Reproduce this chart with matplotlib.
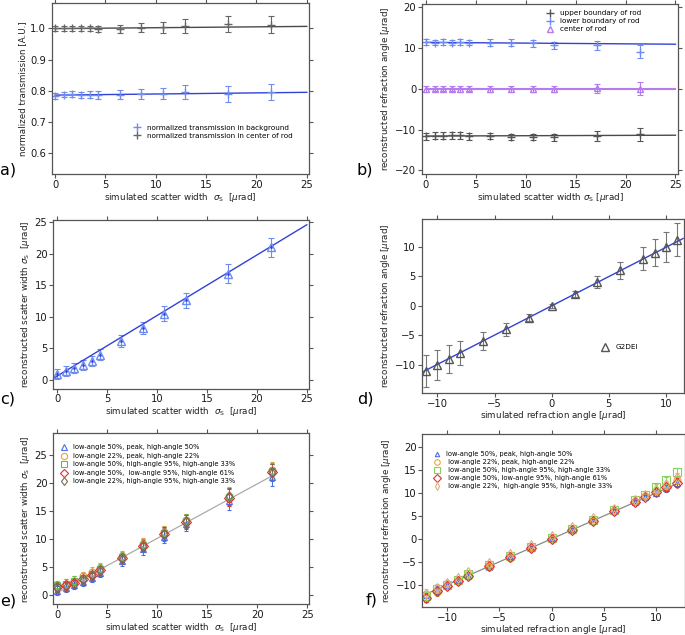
import numpy as np
import matplotlib
matplotlib.use("Agg")
import matplotlib.pyplot as plt

plt.rcParams['font.family'] = ['DejaVu Sans']
plt.rcParams['mathtext.fontset'] = 'dejavusans'

# simulated scatter widths (panels a, b, c, e)
sigma_sim = [0, 0.86, 1.71, 2.57, 3.43, 4.29, 6.43, 8.57, 10.71, 12.86, 17.14, 21.43]

# panel a
trans_bg = [0.784, 0.788, 0.790, 0.786, 0.787, 0.787, 0.788, 0.789, 0.791, 0.796, 0.790, 0.797]
trans_bg_err = [0.009, 0.009, 0.010, 0.010, 0.011, 0.012, 0.015, 0.017, 0.019, 0.024, 0.025, 0.026]
trans_rod = [1.0, 1.0, 1.0, 1.0, 1.0, 0.998, 0.999, 1.002, 1.003, 1.0075, 1.014, 1.012]
trans_rod_err = [0.008, 0.008, 0.008, 0.008, 0.009, 0.009, 0.013, 0.015, 0.019, 0.022, 0.027, 0.028]
fit_a_x = [0, 25]
fit_a_bg = [0.786, 0.795]
fit_a_rod = [0.9995, 1.0065]

# panel b
ang_low = [11.4, 11.3, 11.4, 11.3, 11.4, 11.3, 11.3, 11.3, 11.1, 10.6, 10.6, 9.1]
ang_low_err = [0.75, 0.7, 0.75, 0.7, 0.75, 0.7, 0.8, 0.8, 0.85, 0.9, 1.2, 1.55]
ang_up = [-11.7, -11.5, -11.5, -11.45, -11.45, -11.7, -11.6, -11.8, -11.85, -11.85, -11.6, -11.2]
ang_up_err = [0.85, 0.8, 0.8, 0.8, 0.85, 0.8, 0.8, 0.8, 0.8, 0.85, 1.15, 1.6]
ang_ctr = [0, 0, 0, 0, 0, 0, 0, 0, 0, 0, 0.15, 0]
ang_ctr_err = [0.7, 0.65, 0.65, 0.65, 0.7, 0.65, 0.7, 0.7, 0.7, 0.75, 1.1, 1.55]
fit_b_x = [0, 25]
fit_b_low = [11.35, 10.9]
fit_b_up = [-11.6, -11.4]
fit_b_ctr = [0, 0]

# panel c
sigma_rec = [0.85, 1.37, 1.8, 2.4, 3.0, 3.96, 6.13, 8.2, 10.5, 12.6, 16.86, 21.0]
sigma_rec_err = [0.8, 0.8, 0.8, 0.8, 0.85, 0.85, 0.9, 1.0, 1.15, 1.2, 1.45, 1.45]
fit_c_x = [-0.4, 25]
fit_c_y = [0.22, 24.6]

# panel d
refr_sim = [-11, -10, -9, -8, -6, -4, -2, 0, 2, 4, 6, 8, 9, 10, 11]
refr_rec = [-11, -10, -9, -8, -6, -4, -2, 0, 2, 4, 6, 8, 9, 10, 11.2]
refr_err = [2.7, 2.5, 2.3, 2.0, 1.5, 1.05, 0.55, 0.35, 0.5, 1.0, 1.5, 2.0, 2.3, 2.5, 2.8]
fit_d_x = [-11.4, 11.5]
fit_d_y = [-11.3, 11.4]

# panel e / f
labels_e = ["low-angle 50%, peak, high-angle 50%",
            "low-angle 22%, peak, high-angle 22%",
            "low-angle 50%, high-angle 95%, high-angle 33%",
            "low-angle 50%,  low-angle 95%, high-angle 61%",
            "low-angle 22%, high-angle 95%, high-angle 33%"]
labels_f = ["low-angle 50%, peak, high-angle 50%",
            " low-angle 22%, peak, high-angle 22%",
            " low-angle 50%, high-angle 95%, high-angle 33%",
            " low-angle 50%, low-angle 95%, high-angle 61%",
            " low-angle 22%,  high-angle 95%, high-angle 33%"]
e_blue = [0.8, 1.3, 1.8, 2.4, 3.1, 4.0, 6.1, 8.2, 10.4, 12.6, 16.7, 21.0]
e_orange = [1.6, 2.0, 2.5, 3.3, 4.1, 4.8, 6.9, 9.1, 11.2, 13.3, 17.7, 22.2]
e_green = [1.7, 2.0, 2.5, 3.1, 3.8, 4.6, 6.7, 8.9, 11.0, 13.2, 17.5, 22.0]
e_red = [1.4, 1.7, 2.2, 2.8, 3.5, 4.4, 6.6, 8.8, 10.9, 13.0, 17.3, 21.9]
e_gray = [1.2, 1.5, 2.0, 2.7, 3.5, 4.3, 6.5, 8.7, 10.8, 13.1, 17.6, 21.8]
e_err = [0.8, 0.8, 0.8, 0.8, 0.85, 0.85, 0.9, 1.0, 1.15, 1.2, 1.5, 1.5]
fit_e_x = [0, 21.5]
fit_e_y = [0.4, 21.25]

refr_sim_f = [-12, -11, -10, -9, -8, -6, -4, -2, 0, 2, 4, 6, 8, 9, 10, 11, 12]
f_blue = [-12.3, -11.2, -10.1, -9.1, -8.1, -6.1, -4.0, -2.0, 0, 2, 4, 6, 8, 9.1, 10.0, 11.0, 12.2]
f_orange = [-12.7, -11.5, -10.3, -9.2, -8.1, -6.1, -4.1, -2.1, -0.1, 2.0, 4.0, 6.0, 8.2, 9.3, 10.5, 11.6, 12.8]
f_green = [-12.4, -11.0, -10.0, -8.9, -7.7, -5.8, -3.8, -1.8, 0.1, 2.2, 4.2, 6.3, 8.4, 9.6, 11.3, 12.8, 14.5]
f_red = [-12.8, -11.4, -10.3, -9.1, -8.0, -6.0, -3.9, -1.9, 0, 2.0, 4.0, 6.0, 8.0, 9.1, 10.3, 11.3, 12.3]
f_tan = [-12.0, -10.8, -9.6, -8.5, -7.2, -5.3, -3.3, -1.3, 0.6, 2.6, 4.6, 6.6, 8.5, 9.5, 10.8, 12.0, 13.5]
f_err = [1.0, 0.9, 0.7, 0.5, 0.5, 0.5, 0.4, 0.4, 0.4, 0.4, 0.4, 0.5, 0.5, 0.5, 0.6, 0.7, 0.9]
fit_f_x = [-12, 12]
fit_f_y = [-12, 12]

BLUE_L = "#6f8cf2"
BLUE_D = "#3142d6"
GRAY = "#4a4a4a"
PURPLE = "#b57cf0"
FRAME = "#555555"

fig = plt.figure(figsize=(6.85, 6.35), dpi=100)


def style(ax):
    for s in ax.spines.values():
        s.set_color(FRAME)
        s.set_linewidth(0.9)
    ax.tick_params(direction='out', top=True, right=True, length=3, width=0.8,
                   color=FRAME, labelsize=7.2, labelcolor='#1a1a1a', pad=1.2)
    ax.xaxis.label.set_size(6.3)
    ax.yaxis.label.set_size(6.3)
    ax.xaxis.label.set_color('#222222')
    ax.yaxis.label.set_color('#222222')
    ax.xaxis.labelpad = 0.5
    ax.yaxis.labelpad = 2


xlab_sigma = r'simulated scatter width  $\sigma_{\rm S}$  [$\mu$rad]'
ek = dict(capsize=2, elinewidth=0.8, capthick=0.8, linestyle='none')
leg_kw = dict(loc='upper left', frameon=False, fontsize=5.2, handlelength=1.2,
              handletextpad=0.8, labelspacing=0.3, borderpad=0)

# ---- a
ax = fig.add_axes([0.0759, 0.726, 0.375, 0.269])
ax.errorbar(sigma_sim, trans_bg, yerr=trans_bg_err, marker='+', ms=6, color=BLUE_L, **ek,
            label='normalized transmission in background')
ax.errorbar(sigma_sim, trans_rod, yerr=trans_rod_err, marker='+', ms=6, color='#666666', **ek,
            label='normalized transmission in center of rod')
ax.plot(fit_a_x, fit_a_bg, color=BLUE_D, lw=1)
ax.plot(fit_a_x, fit_a_rod, color=GRAY, lw=1)
ax.set_xlim(-0.3, 25.2)
ax.set_ylim(0.533, 1.081)
ax.set_yticks([0.6, 0.7, 0.8, 0.9, 1.0])
ax.set_xticks([0, 5, 10, 15, 20, 25])
ax.set_xlabel(xlab_sigma)
ax.set_ylabel('normalized transmission [A.U.]')
h, l = ax.get_legend_handles_labels()
ax.legend([x[0] for x in h], l, bbox_to_anchor=(0.3, 0.31), **leg_kw)
style(ax)

# ---- b
ax = fig.add_axes([0.616, 0.726, 0.374, 0.268])
ax.errorbar(sigma_sim, ang_up, yerr=ang_up_err, marker='+', ms=6, color='#555555', **ek,
            label='upper boundary of rod')
ax.errorbar(sigma_sim, ang_low, yerr=ang_low_err, marker='+', ms=6, color=BLUE_L, **ek,
            label='lower boundary of rod')
ax.errorbar(sigma_sim, ang_ctr, yerr=ang_ctr_err, marker='^', ms=5, mfc='none', color=PURPLE, **ek,
            label='center of rod')
ax.plot(fit_b_x, fit_b_low, color=BLUE_D, lw=1)
ax.plot(fit_b_x, fit_b_up, color=GRAY, lw=1)
ax.plot(fit_b_x, fit_b_ctr, color=PURPLE, lw=1.5)
ax.set_xlim(-0.4, 25.27)
ax.set_ylim(-20.9, 20.8)
ax.set_yticks([-20, -10, 0, 10, 20])
ax.set_xticks([0, 5, 10, 15, 20, 25])
ax.set_xlabel(r'simulated scatter width $\sigma_{\rm S}$ [$\mu$rad]')
ax.set_ylabel(r'reconstructed refraction angle [$\mu$rad]')
h, l = ax.get_legend_handles_labels()
ax.legend([x[0] for x in h], l, bbox_to_anchor=(0.47, 0.985), **leg_kw)
style(ax)

# ---- c
ax = fig.add_axes([0.0778, 0.388, 0.373, 0.266])
ax.errorbar(sigma_sim, sigma_rec, yerr=sigma_rec_err, marker='^', ms=6, mfc='none', color=BLUE_L, **ek)
ax.plot(sigma_sim, sigma_rec, ls='none', marker='.', ms=2, color=BLUE_D)
ax.plot(fit_c_x, fit_c_y, color=BLUE_D, lw=1)
ax.set_xlim(-0.4, 25.2)
ax.set_ylim(-1.4, 25.4)
ax.set_yticks([0, 5, 10, 15, 20, 25])
ax.set_xticks([0, 5, 10, 15, 20, 25])
ax.set_xlabel(xlab_sigma)
ax.set_ylabel(r'reconstructed scatter width $\sigma_{\rm S}$  [$\mu$rad]')
style(ax)

# ---- d
ax = fig.add_axes([0.6156, 0.3816, 0.383, 0.2735])
ax.errorbar(refr_sim, refr_rec, yerr=refr_err, marker='^', ms=6, mfc='none', color='#777777',
            mec='#555555', **ek, label='G2DEI')
ax.plot(fit_d_x, fit_d_y, color=BLUE_D, lw=1)
ax.set_xlim(-11.37, 11.58)
ax.set_ylim(-14.7, 14.7)
ax.set_yticks([-10, -5, 0, 5, 10])
ax.set_xticks([-10, -5, 0, 5, 10])
ax.set_xlabel(r'simulated refraction angle [$\mu$rad]')
ax.set_ylabel(r'reconstructed refraction angle [$\mu$rad]')
h, l = ax.get_legend_handles_labels()
ax.legend([x[0] for x in h], l, bbox_to_anchor=(0.67, 0.3), **leg_kw)
style(ax)

# ---- e
ax = fig.add_axes([0.0778, 0.0483, 0.3737, 0.2693])
series_e = [(e_blue, '^', 5, '#4a6ee8'), (e_orange, 'o', 5, '#e8a040'),
            (e_green, 's', 5, '#5cbf5c'), (e_red, 'D', 5, '#e03030'),
            (e_gray, 'd', 5, '#7a6a5a')]
ax.plot(fit_e_x, fit_e_y, color='#aaaaaa', lw=0.9)
for (vals, m, ms, c), lab in zip(series_e, labels_e):
    ax.errorbar(sigma_sim, vals, yerr=e_err, marker=m, ms=ms, mfc='none', color=c, capsize=1.5,
                elinewidth=0.7, capthick=0.7, linestyle='none', mew=0.8, label=lab)
ax.set_xlim(-0.4, 25.2)
ax.set_ylim(-1.66, 28.8)
ax.set_yticks([0, 5, 10, 15, 20, 25])
ax.set_xticks([0, 5, 10, 15, 20, 25])
ax.set_xlabel(xlab_sigma)
ax.set_ylabel(r'reconstructed scatter width $\sigma_{\rm S}$  [$\mu$rad]')
h, l = ax.get_legend_handles_labels()
ax.legend([x[0] for x in h], l, bbox_to_anchor=(0.015, 0.955), loc='upper left', frameon=False,
          fontsize=4.8, handlelength=1.0, handletextpad=0.9, labelspacing=0.38, borderpad=0,
          markerscale=0.9)
style(ax)

# ---- f
ax = fig.add_axes([0.6165, 0.0446, 0.3835, 0.272])
series_f = [(f_blue, '^', 4, '#4a6ee8'), (f_orange, 'o', 5, '#f0a830'),
            (f_green, 's', 5.5, '#88d060'), (f_red, 'D', 5, '#e03030'),
            (f_tan, 'd', 5, '#e0b080')]
ax.plot(fit_f_x, fit_f_y, color='#888888', lw=0.9)
for (vals, m, ms, c), lab in zip(series_f, labels_f):
    ax.errorbar(refr_sim_f, vals, yerr=f_err, marker=m, ms=ms, mfc='none', color=c, capsize=1.5,
                elinewidth=0.7, capthick=0.7, linestyle='none', mew=0.8, label=lab)
ax.set_xlim(-12.4, 12.8)
ax.set_ylim(-14.8, 22.9)
ax.set_yticks([-10, -5, 0, 5, 10, 15, 20])
ax.set_xticks([-10, -5, 0, 5, 10])
ax.set_xlabel(r'simulated refraction angle [$\mu$rad]')
ax.set_ylabel(r'reconstructed refraction angle [$\mu$rad]')
h, l = ax.get_legend_handles_labels()
ax.legend([x[0] for x in h], l, bbox_to_anchor=(0.03, 0.92), loc='upper left', frameon=False,
          fontsize=4.8, handlelength=1.0, handletextpad=0.9, labelspacing=0.3, borderpad=0,
          markerscale=0.8)
style(ax)

# panel labels
for txt, x, y in [('a)', 0, 170), ('b)', 357, 170), ('c)', 0, 399),
                  ('d)', 357, 399), ('e)', 0, 601), ('f)', 366, 600)]:
    fig.text(x / 685, 1 - y / 635, txt, fontsize=11.5, va='center', ha='left')

fig.savefig('out.png', dpi=100)
